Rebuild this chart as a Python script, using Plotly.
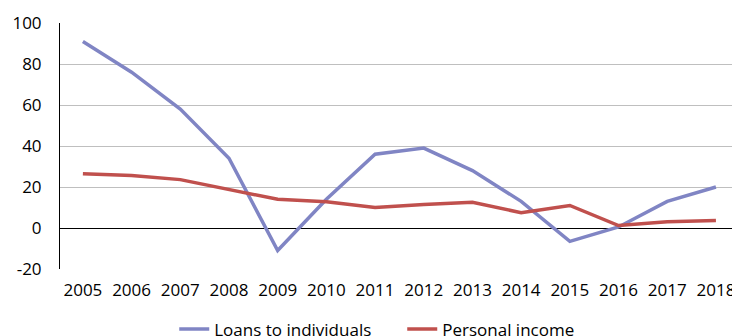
import plotly.graph_objects as go

years = ["2005", "2006", "2007", "2008", "2009", "2010", "2011", "2012", "2013", "2014", "2015", "2016", "2017", "2018"]
loans = [91, 76, 58, 34, -11, 14, 36, 39, 28, 13, -6.5, 0.5, 13, 20]
income = [26.5, 25.6, 23.6, 19, 14, 12.8, 10, 11.5, 12.5, 7.5, 11, 1.2, 3, 3.6]
y_ticks = [-20, 0, 20, 40, 60, 80, 100]
y_tick_text = ["-20", "0", "20", "40", "60", "80", "100"]

font_family = "Open Sans"

fig = go.Figure()
fig.add_trace(go.Scatter(x=years, y=loans, mode="lines", name="Loans to individuals",
                         line=dict(color="#8085C4", width=3.5)))
fig.add_trace(go.Scatter(x=years, y=income, mode="lines", name="Personal income",
                         line=dict(color="#C0504D", width=3.5)))

fig.update_layout(
    width=732, height=336,
    margin=dict(l=60, r=0, t=23, b=67, autoexpand=False),
    paper_bgcolor="white", plot_bgcolor="white",
    font=dict(family=font_family, size=17, color="black"),
    showlegend=True,
    legend=dict(orientation="h", x=0.17, xanchor="left", y=-0.173, yanchor="top",
                font=dict(size=17), itemwidth=30, tracegroupgap=0,
                entrywidth=183, entrywidthmode="pixels"),
    xaxis=dict(type="category", range=[-0.47, 13.33], showgrid=False,
               showline=False, ticks="outside", ticklen=6, tickcolor="rgba(0,0,0,0)",
               automargin=False, tickfont=dict(size=17)),
    yaxis=dict(range=[-20, 100], tickvals=y_ticks, ticktext=y_tick_text,
               showgrid=True, gridcolor="#BFBFBF",
               gridwidth=1, zeroline=True, zerolinecolor="black", zerolinewidth=1,
               showline=True, linecolor="black", linewidth=1,
               ticks="outside", ticklen=14, tickcolor="rgba(0,0,0,0)",
               automargin=False, tickfont=dict(size=17)),
)

fig.write_html("out.html")
